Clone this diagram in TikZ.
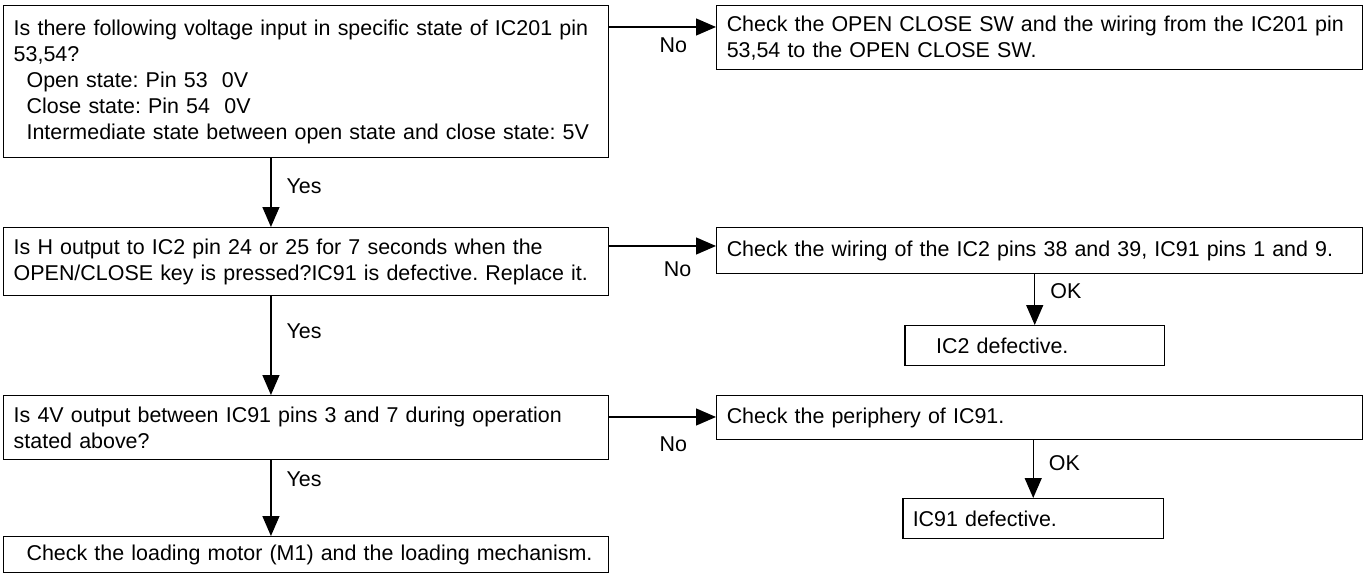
\documentclass[tikz,border=0pt]{standalone}
\usepackage{fontspec}
\setmainfont{Liberation Sans}
\usetikzlibrary{arrows.meta}
\frenchspacing

\begin{document}
\begin{tikzpicture}[x=0.02cm, y=-0.02cm,
  box/.style={draw, line width=0.85pt, anchor=north west, inner xsep=0.2cm, inner ysep=0pt,
    align=left, font=\fontsize{12.2}{14.8}\selectfont},
  arr/.style={-{Triangle[length=0.4cm, width=0.34cm]}, line width=0.75pt},
  lbl/.style={font=\fontsize{12.2}{14.8}\selectfont, inner sep=0pt}]
  \useasboundingbox (0,0) rectangle (1367,574);
  % questions on the left
  \node[box, minimum width=12.1cm, minimum height=3.04cm, text width=11.7cm] (ask1) at (3,5)
    {Is there following voltage input in specific state of IC201 pin\\
     53,54?\\
     \hspace*{0.6em}Open state: Pin 53\ \ 0V\\
     \hspace*{0.6em}Close state: Pin 54\ \ 0V\\
     \hspace*{0.6em}Intermediate state between open state and close state: 5V};
  \node[box, minimum width=12.1cm, minimum height=1.36cm, text width=11.7cm] (ask2) at (3,227)
    {Is H output to IC2 pin 24 or 25 for 7 seconds when the\\
     OPEN/CLOSE key is pressed?IC91 is defective. Replace it.};
  \node[box, minimum width=12.1cm, minimum height=1.28cm, text width=11.7cm] (ask3) at (3,395)
    {Is 4V output between IC91 pins 3 and 7 during operation\\
     stated above?};
  \node[box, minimum width=12.1cm, minimum height=0.72cm, text width=11.7cm] (motor) at (3,536)
    {\hspace*{0.6em}Check the loading motor (M1) and the loading mechanism.};
  % checks on the right
  \node[box, minimum width=12.92cm, minimum height=1.28cm, text width=12.52cm] (chk1) at (716,5)
    {Check the OPEN CLOSE SW and the wiring from the IC201 pin\\
     53,54 to the OPEN CLOSE SW.};
  \node[box, minimum width=12.92cm, minimum height=0.92cm, text width=12.52cm] (chk2) at (716,227)
    {Check the wiring of the IC2 pins 38 and 39, IC91 pins 1 and 9.};
  \node[box, minimum width=5.2cm, minimum height=0.8cm, text width=4.8cm] (bad2) at (904,325)
    {\hspace*{1em}IC2 defective.};
  \node[box, minimum width=12.92cm, minimum height=0.88cm, text width=12.52cm] (chk3) at (716,395)
    {Check the periphery of IC91.};
  \node[box, minimum width=5.22cm, minimum height=0.8cm, text width=4.82cm] (bad3) at (902,498)
    {IC91 defective.};
  % yes / no / ok
  \draw[arr] ([yshift=-0.44cm]ask1.north east) -- ([yshift=-0.44cm]chk1.north west)
    node[lbl, pos=0.6, below=0.2cm] {No};
  \draw[arr] ([yshift=-0.38cm]ask2.north east) -- ([yshift=-0.38cm]chk2.north west)
    node[lbl, pos=0.64, below=0.3cm] {No};
  \draw[arr] ([yshift=-0.44cm]ask3.north east) -- ([yshift=-0.44cm]chk3.north west)
    node[lbl, pos=0.6, below=0.38cm] {No};
  \draw[arr] ([xshift=5.36cm]ask1.south west) -- ([xshift=5.36cm]ask2.north west)
    node[lbl, pos=0.4, right=0.3cm] {Yes};
  \draw[arr] ([xshift=5.36cm]ask2.south west) -- ([xshift=5.36cm]ask3.north west)
    node[lbl, pos=0.35, right=0.3cm] {Yes};
  \draw[arr] ([xshift=5.36cm]ask3.south west) -- ([xshift=5.36cm]motor.north west)
    node[lbl, pos=0.25, right=0.3cm] {Yes};
  \draw[arr] (bad2.north |- chk2.south) -- (bad2.north)
    node[lbl, pos=0.33, right=0.3cm] {OK};
  \draw[arr] (bad3.north |- chk3.south) -- (bad3.north)
    node[lbl, pos=0.39, right=0.3cm] {OK};
\end{tikzpicture}
\end{document}
